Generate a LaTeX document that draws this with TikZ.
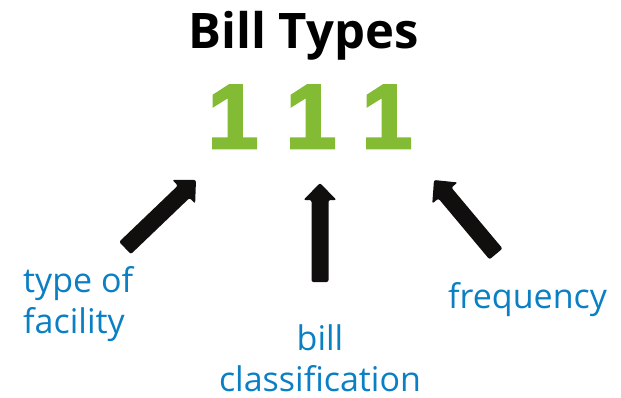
\documentclass[tikz,border=0pt]{standalone}
\usepackage{fontspec}
\setmainfont{Open Sans}
\newfontfamily\digitfont{Liberation Sans Bold}[FakeBold=3]
\usetikzlibrary{calc}

\definecolor{leaf}{HTML}{84BB34}
\definecolor{ink}{HTML}{100F0D}
\definecolor{caption}{HTML}{0A7FC4}

\tikzset{
  title/.style={font=\bfseries\fontsize{49}{58}\selectfont, text=black, inner sep=0pt},
  digit/.style={font=\digitfont\fontsize{91}{100}\selectfont, text=leaf, inner sep=0pt},
  caption/.style={font=\fontsize{34}{41}\selectfont, text=caption, inner sep=0pt},
  arrowbody/.style={fill=ink, rounded corners=2pt},
}

% thick block arrow from #1 (tail) to #2 (tip); #3 names the point where head meets shaft
\newcommand{\fatarrow}[3]{%
  \coordinate (#3) at ($(#2)!17pt!(#1)$);
  \fill[arrowbody]
    ($(#1)!8.5pt!-90:(#2)$) -- ($(#3)!8.5pt!-90:(#2)$) -- ($(#3)!16.5pt!-90:(#2)$)
    -- (#2) -- ($(#3)!16.5pt!90:(#2)$) -- ($(#3)!8.5pt!90:(#2)$)
    -- ($(#1)!8.5pt!90:(#2)$) -- cycle;
}

\begin{document}
\begin{tikzpicture}[x=1pt, y=-1pt]
  \useasboundingbox (0,0) rectangle (621,397);

  \node[title, anchor=base] (title) at (303.5,48) {Bill Types};

  \node[digit, anchor=base] (d1) at (233,148) {1};
  \node[digit, anchor=base] (d2) at (311,148) {1};
  \node[digit, anchor=base] (d3) at (387,148) {1};

  % multi-line captions: the base anchor sits on the last line
  \node[caption, anchor=base west, align=left] (facility) at (23,333) {type of\\facility};
  \node[caption, anchor=base, align=center] (class) at (320,391) {bill\\classification};
  \node[caption, anchor=base west] (freq) at (448,308) {frequency};

  \coordinate (tailL) at (125,248);  \coordinate (tipL) at (196,180);
  \coordinate (tailM) at (320,282);  \coordinate (tipM) at (320,183);
  \coordinate (tailR) at (496,254);  \coordinate (tipR) at (434,180);

  \fatarrow{tailL}{tipL}{neckL}
  \fatarrow{tailM}{tipM}{neckM}
  \fatarrow{tailR}{tipR}{neckR}
\end{tikzpicture}
\end{document}
